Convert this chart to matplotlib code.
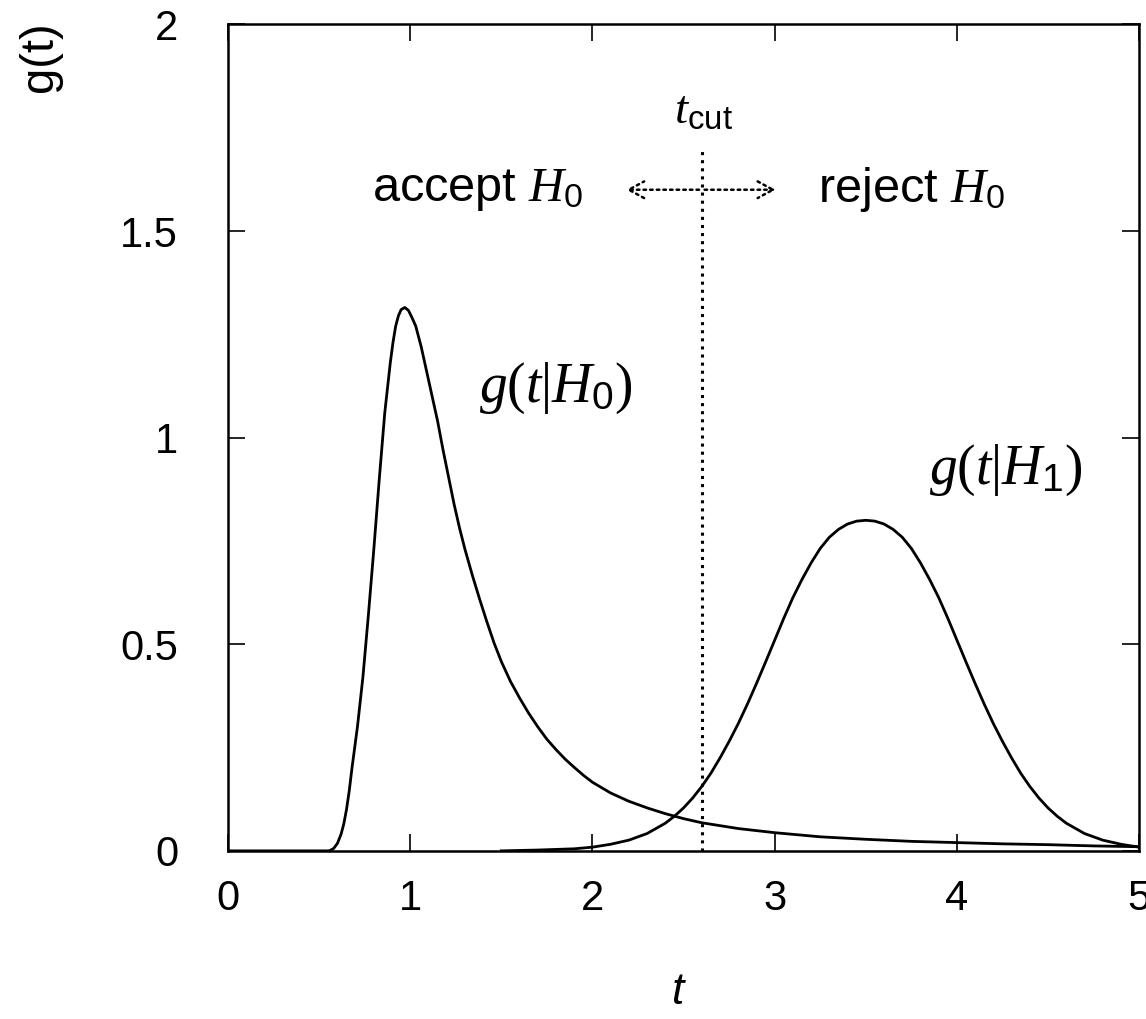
import matplotlib
matplotlib.use("Agg")
import matplotlib.pyplot as plt

plt.rcParams["font.family"] = ["Liberation Sans", "DejaVu Sans"]
plt.rcParams["mathtext.fontset"] = "custom"
plt.rcParams["mathtext.it"] = "Liberation Serif:italic"
plt.rcParams["mathtext.rm"] = "Liberation Serif"
plt.rcParams["mathtext.sf"] = "Liberation Sans"

# g(t|H0)
t_h0 = [0.0, 0.50, 0.55, 0.56, 0.58, 0.60, 0.62, 0.635, 0.65, 0.665, 0.68,
        0.71, 0.74, 0.77, 0.80, 0.83, 0.86, 0.89, 0.905, 0.92, 0.935, 0.95,
        0.97, 0.99, 1.01, 1.03, 1.06, 1.09, 1.12, 1.15, 1.18, 1.21, 1.24, 1.27,
        1.30, 1.34, 1.38, 1.42, 1.46, 1.50, 1.55, 1.60, 1.65, 1.70, 1.75, 1.80,
        1.85, 1.90, 1.95, 2.00, 2.10, 2.20, 2.30, 2.40, 2.50, 2.60, 2.80, 3.00,
        3.25, 3.50, 3.75, 4.00, 4.25, 4.50, 4.75, 5.00]
g_h0 = [0.0, 0.0, 0.0, 0.001, 0.006, 0.018, 0.04, 0.065, 0.10, 0.145, 0.20,
        0.30, 0.42, 0.57, 0.73, 0.90, 1.06, 1.18, 1.23, 1.27, 1.295, 1.31,
        1.315, 1.308, 1.29, 1.27, 1.22, 1.16, 1.10, 1.04, 0.97, 0.905, 0.84, 0.782,
        0.73, 0.668, 0.61, 0.555, 0.503, 0.458, 0.41, 0.37, 0.333, 0.30, 0.27, 0.245,
        0.222, 0.202, 0.183, 0.166, 0.140, 0.120, 0.104, 0.090, 0.078, 0.068, 0.054, 0.044,
        0.034, 0.028, 0.023, 0.020, 0.017, 0.015, 0.012, 0.010]

# g(t|H1)
t_h1 = [1.5, 1.7, 1.9, 2.0, 2.1, 2.2, 2.3, 2.4, 2.45, 2.5, 2.55, 2.6, 2.65,
        2.7, 2.75, 2.8, 2.85, 2.9, 2.95, 3.0, 3.05, 3.1, 3.15, 3.2, 3.25, 3.3,
        3.35, 3.4, 3.45, 3.5, 3.55, 3.6, 3.65, 3.7, 3.75, 3.8, 3.85, 3.9, 3.95,
        4.0, 4.05, 4.1, 4.15, 4.2, 4.25, 4.3, 4.35, 4.4, 4.45, 4.5, 4.55, 4.6,
        4.7, 4.8, 4.9, 5.0]
g_h1 = [0.0, 0.002, 0.005, 0.009, 0.016, 0.026, 0.042, 0.067, 0.084, 0.104,
        0.128, 0.156, 0.188, 0.225, 0.265, 0.308, 0.355, 0.405, 0.457, 0.51,
        0.563, 0.613, 0.657, 0.697, 0.732, 0.759, 0.778, 0.791, 0.798, 0.80,
        0.798, 0.791, 0.778, 0.759, 0.732, 0.697, 0.657, 0.613, 0.563, 0.51,
        0.457, 0.405, 0.355, 0.308, 0.265, 0.225, 0.188, 0.156, 0.128, 0.104,
        0.084, 0.067, 0.042, 0.026, 0.016, 0.009]

t_cut = 2.6
x_ticks = [0, 1, 2, 3, 4, 5]
y_ticks = [0, 0.5, 1, 1.5, 2]
y_tick_labels = ["0", "0.5", "1", "1.5", "2"]

fig = plt.figure(figsize=(11.46, 10.19), dpi=100)
ax = fig.add_axes([0.199, 0.165, 0.795, 0.811])

ax.plot(t_h0, g_h0, color="black", lw=2.0)
ax.plot(t_h1, g_h1, color="black", lw=2.0)
ax.plot([t_cut, t_cut], [0, 1.70], color="black", lw=2.2, linestyle=":")

arrow = dict(arrowstyle="->,head_length=1.1,head_width=0.6",
             linestyle=":", lw=1.8, color="black")
ax.annotate("", xy=(2.17, 1.6), xytext=(t_cut, 1.6), arrowprops=arrow)
ax.annotate("", xy=(3.02, 1.6), xytext=(t_cut, 1.6), arrowprops=arrow)

ax.text(1.37, 1.60, r"accept $H_\mathsf{0}$", fontsize=35, ha="center", va="center")
ax.text(3.75, 1.60, r"reject $H_\mathsf{0}$", fontsize=35, ha="center", va="center")
ax.text(2.61, 1.79, r"$t_\mathsf{cut}$", fontsize=34, ha="center", va="center")
ax.text(1.80, 1.12, r"$g(t|H_\mathsf{0})$", fontsize=40, ha="center", va="center")
ax.text(4.27, 0.92, r"$g(t|H_\mathsf{1})$", fontsize=40, ha="center", va="center")

ax.set_xlim(0, 5)
ax.set_ylim(0, 2)
ax.set_xticks(x_ticks)
ax.set_yticks(y_ticks)
ax.set_yticklabels(y_tick_labels)
ax.tick_params(direction="in", length=12, width=1.2, labelsize=30,
               top=True, right=True)
ax.tick_params(axis="x", pad=20)
ax.tick_params(axis="y", pad=36)
for s in ax.spines.values():
    s.set_linewidth(1.8)

fig.text(678 / 1146, 1 - 992 / 1019, "t", fontsize=32, style="italic",
         ha="center", va="center")
fig.text(40 / 1146, 1 - 57 / 1019, "g(t)", fontsize=34, rotation=90,
         ha="center", va="center")

fig.savefig("out.png", dpi=100)
